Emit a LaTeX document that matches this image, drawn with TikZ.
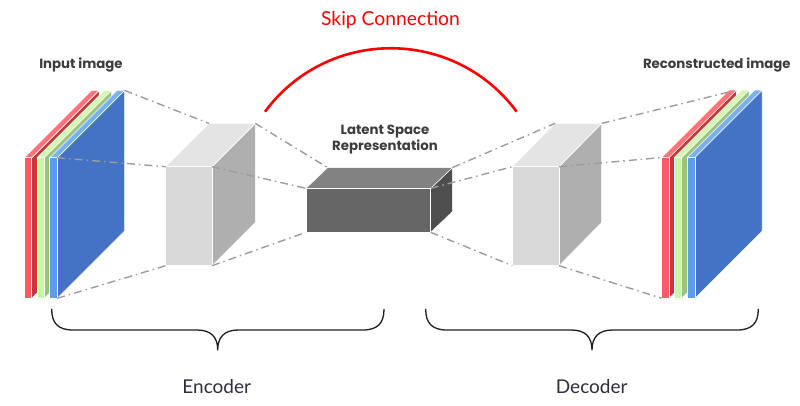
\documentclass[tikz,border=0pt]{standalone}
\usepackage{fontspec}
\setmainfont{Lato}
\newfontfamily\labfont{Poppins}
\definecolor{redF}{HTML}{FF5A5F}
\definecolor{redT}{HTML}{FF7479}
\definecolor{redS}{HTML}{C4373D}
\definecolor{grnF}{HTML}{C6F7A2}
\definecolor{grnT}{HTML}{D2F8B6}
\definecolor{grnS}{HTML}{9DC47D}
\definecolor{bluF}{HTML}{5C9CF2}
\definecolor{bluT}{HTML}{7AB0F6}
\definecolor{bluS}{HTML}{4472C4}
\definecolor{encF}{HTML}{D9D9D9}
\definecolor{encT}{HTML}{E4E4E4}
\definecolor{encS}{HTML}{AFAFAF}
\definecolor{latF}{HTML}{666666}
\definecolor{latT}{HTML}{828282}
\definecolor{latS}{HTML}{4E4E4E}
\definecolor{guidegray}{HTML}{9C9C9C}
\definecolor{bracecol}{HTML}{1E1E1E}
\definecolor{labgray}{HTML}{3C3C3C}
\definecolor{partcol}{HTML}{2E2E3C}
\definecolor{skipred}{HTML}{FF0000}
% name, x1, y1, x2, y2, dx, dy, colour prefix
\newcommand{\cuboid}[8]{%
  \coordinate (#1-ftl) at (#2,#3);
  \coordinate (#1-ftr) at (#4,#3);
  \coordinate (#1-fbl) at (#2,#5);
  \coordinate (#1-fbr) at (#4,#5);
  \coordinate (#1-btl) at ({#2+#6},{#3+#7});
  \coordinate (#1-btr) at ({#4+#6},{#3+#7});
  \coordinate (#1-bbr) at ({#4+#6},{#5+#7});
  \path[face,fill=#8S] (#1-ftr) -- (#1-btr) -- (#1-bbr) -- (#1-fbr) -- cycle;
  \path[face,fill=#8T] (#1-ftl) -- (#1-btl) -- (#1-btr) -- (#1-ftr) -- cycle;
  \path[face,fill=#8F] (#1-ftl) rectangle (#1-fbr);
}
\begin{document}
\begin{tikzpicture}[x=1pt,y=-1pt,
  face/.style={draw=white,line width=0.5pt,line join=round},
  guide/.style={draw=guidegray,line width=1.4pt,dash pattern=on 8pt off 4pt on 1.5pt off 4pt},
  brace/.style={draw=bracecol,line width=1.3pt,line join=round,line cap=round},
  headlab/.style={font=\labfont\bfseries\fontsize{13.3}{16.5}\selectfont,text=labgray,inner sep=0pt,align=center},
  partlab/.style={font=\fontsize{19}{22}\selectfont,text=partcol,inner sep=0pt},
  skiplab/.style={font=\fontsize{19.3}{22}\selectfont,text=skipred,inner sep=0pt}]
\useasboundingbox (0,0) rectangle (800,405);

% input image stack
\cuboid{ir}{24.3}{157.7}{31.7}{298.3}{67.3}{-67.3}{red}
\cuboid{ig}{37.0}{157.7}{44.4}{298.3}{67.3}{-67.3}{grn}
\cuboid{ib}{49.7}{157.7}{57.2}{298.3}{67.3}{-67.3}{blu}

% encoder block
\cuboid{enc}{165.7}{166.7}{212.0}{265.7}{43.3}{-43.3}{enc}

% latent block
\cuboid{lat}{306.0}{188.3}{430.7}{232.3}{21.7}{-20.7}{lat}

% decoder block
\cuboid{dec}{512.3}{166.7}{559.0}{265.7}{42.7}{-43.3}{enc}

% reconstructed image stack
\cuboid{or}{661.7}{157.5}{669.1}{298.3}{67.3}{-67.3}{red}
\cuboid{og}{674.3}{157.5}{681.7}{298.3}{67.3}{-67.3}{grn}
\cuboid{ob}{687.3}{157.5}{694.8}{298.3}{67.3}{-67.3}{blu}

% guide lines
\draw[guide] (ib-btr) -- (enc-btl);
\draw[guide] (ib-ftr) -- (enc-ftl);
\draw[guide] (ib-fbr) -- (enc-fbl);
\draw[guide] (enc-btr) -- (lat-btl);
\draw[guide] (enc-ftr) -- (lat-ftl);
\draw[guide] (enc-fbr) -- (lat-fbl);
\draw[guide] (lat-btr) -- (dec-btl);
\draw[guide] (lat-ftr) -- (dec-ftl);
\draw[guide] (lat-fbr) -- (dec-fbl);
\draw[guide] (dec-btr) -- (or-btr);
\draw[guide] (dec-ftr) -- (or-ftl);
\draw[guide] (dec-fbr) -- (or-fbl);

% skip connection
\coordinate (skipL) at (265,111.7);
\coordinate (skipR) at (516.7,111.7);
\draw[skipred,line width=2.6pt] (skipL) .. controls (327.6,27.1) and (454.1,27.1) .. (skipR);
\node[skiplab] (skip) at (390.5,20) {Skip Connection};

% labels
\node[headlab] (inlab) at (81,64.5) {Input image};
\node[headlab] (outlab) at (716.8,64.5) {Reconstructed image};
\node[headlab] (latlab) at (385,139.5) {Latent Space\\Representation};

% braces
\coordinate (encL) at (51.7,309.3);
\coordinate (encR) at (384,309.3);
\coordinate (encTip) at (217.7,350);
\draw[brace] (encL) .. controls (51.7,323) and (58,330) .. (73,330) -- (197,330)
  .. controls (211,330) and (217.7,337) .. (encTip)
  .. controls (217.7,337) and (224.4,330) .. (238.4,330) -- (362.7,330)
  .. controls (377.7,330) and (384,323) .. (encR);
\coordinate (decL) at (425.7,309.3);
\coordinate (decR) at (758.3,309.3);
\coordinate (decTip) at (592,350);
\draw[brace] (decL) .. controls (425.7,323) and (432,330) .. (447,330) -- (571.3,330)
  .. controls (585.3,330) and (592,337) .. (decTip)
  .. controls (592,337) and (598.7,330) .. (612.7,330) -- (737,330)
  .. controls (752,330) and (758.3,323) .. (decR);
\node[partlab] (enclab) at (216.7,386.7) {Encoder};
\node[partlab] (declab) at (591.7,386.7) {Decoder};
\end{tikzpicture}
\end{document}
